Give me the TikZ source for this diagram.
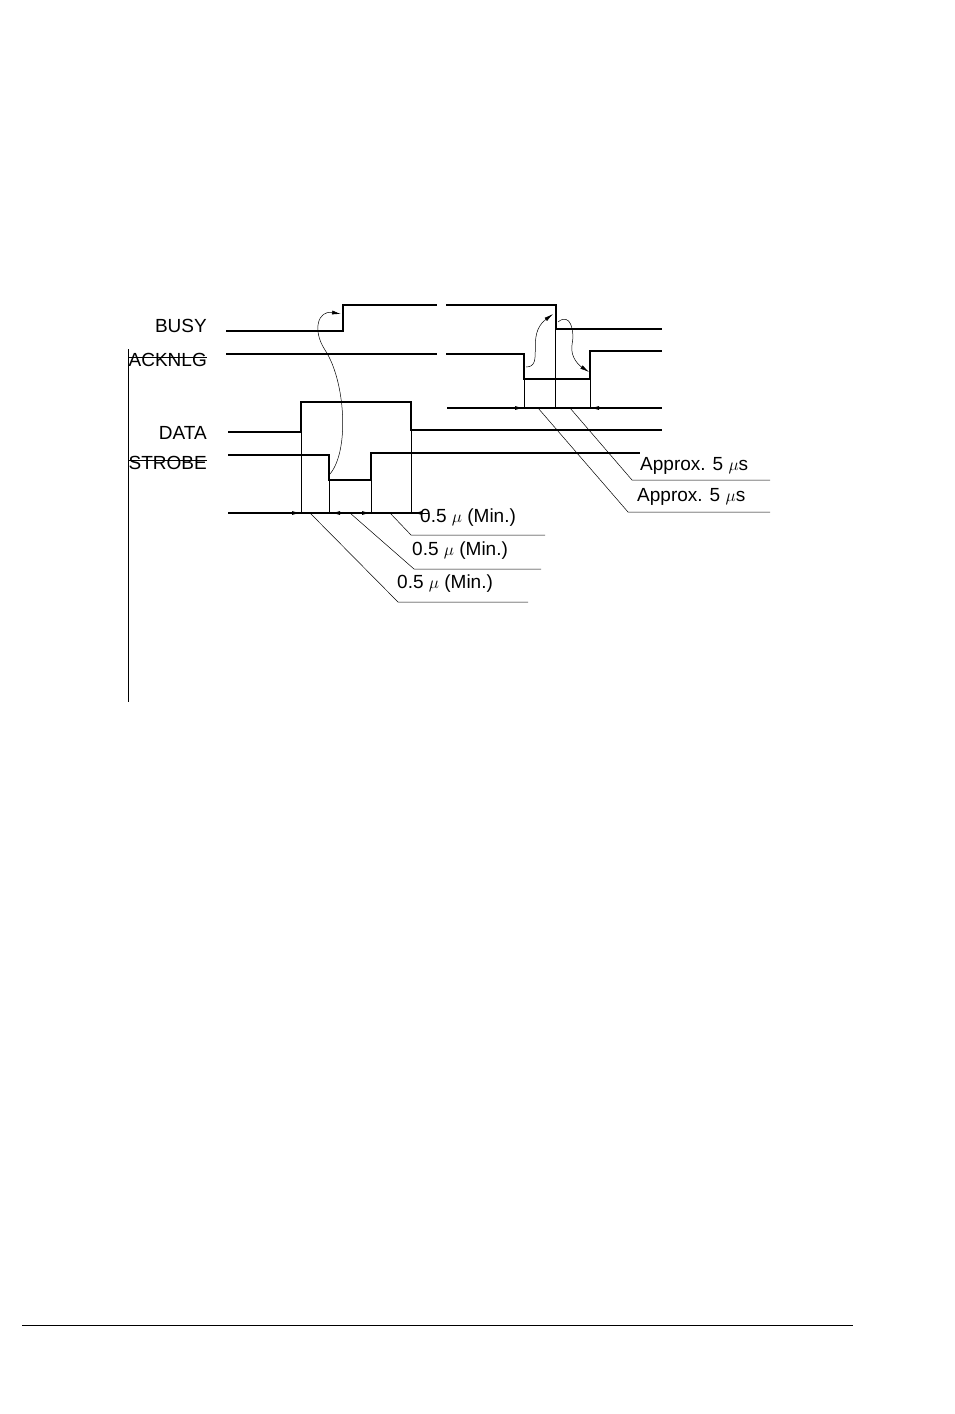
\documentclass[tikz,border=0pt]{standalone}
\usepackage{fontspec}
\setmainfont{Liberation Sans}
\usetikzlibrary{arrows.meta}
\begin{document}
\begin{tikzpicture}[x=1pt,y=-1pt,
  sig/.style={line width=1.6pt},
  thin/.style={line width=0.5pt},
  lbl/.style={font=\fontsize{19}{22}\selectfont, inner sep=0pt},
  tip/.style={-{Latex[length=9pt,width=4pt]}},
  tipl/.style={-{Latex[length=9pt,width=4pt]}}]
\useasboundingbox (0,0) rectangle (954,1414);
% labels
\node[lbl,anchor=east] (busy) at (207,326) {BUSY};
\node[lbl,anchor=east] (ack) at (207,360) {ACKNLG};
\draw[thin] (ack.north west)++(0,-4) -- ++(ack.north east -| 0,0) coordinate (tmp);
\draw[thin] ([yshift=-4pt]ack.north west) -- ([yshift=-4pt]ack.north east);
\node[lbl,anchor=east] (data) at (207,433) {DATA};
\node[lbl,anchor=east] (strobe) at (207,463) {STROBE};
\draw[thin] ([yshift=-4pt]strobe.north west) -- ([yshift=-4pt]strobe.north east);
% BUSY
\draw[sig] (226,331) -- (343,331) -- (343,305) -- (437,305);
\draw[sig] (446,305) -- (556,305) -- (556,329) -- (662,329);
% ACKNLG
\draw[sig] (226,354) -- (437,354);
\draw[sig] (446,354) -- (524,354) -- (524,379) -- (590,379) -- (590,351) -- (662,351);
% ACK timing row
\draw[sig] (447,408) -- (662,408);
\draw[thin] (524,379) -- (524,408);
\draw[thin] (555,329) -- (555,408);
\draw[thin] (590,379) -- (590,408);
\draw[line width=1pt,tip] (505,408) -- (524,408);
\draw[line width=1pt,tip] (608,408) -- (590,408);
% DATA
\draw[sig] (228,432) -- (301,432) -- (301,402) -- (411,402) -- (411,430) -- (662,430);
% STROBE
\draw[sig] (228,455) -- (329,455) -- (329,480) -- (371,480) -- (371,453) -- (640,453);
% bottom timing row
\draw[sig] (228,513) -- (420,513);
\draw[thin] (301,432) -- (301,513);
\draw[thin] (329,480) -- (329,513);
\draw[thin] (371,480) -- (371,513);
\draw[thin] (411,430) -- (411,513);
\draw[line width=1pt,tip] (284,513) -- (301,513);
\draw[line width=1pt,tip] (346,513) -- (331,513);
\draw[line width=1pt,tip] (356,513) -- (371,513);
\draw[line width=1pt,tip] (428,513) -- (413,513);
% leaders bottom
\draw[thin] (310,513) -- (398,602) -- (528,602);
\node[lbl,anchor=west] (m1) at (397,584) {0.5 $\mu$ (Min.)};
\draw[thin] (350,513) -- (414,569) -- (541,569);
\node[lbl,anchor=west] (m2) at (412,551) {0.5 $\mu$ (Min.)};
\draw[thin] (390,513) -- (411,535) -- (545,535);
\node[lbl,anchor=west] (m3) at (420,518) {0.5 $\mu$ (Min.)};
% leaders right
\draw[thin] (538,408) -- (628,512) -- (770,512);
\node[lbl,anchor=west] (a1) at (637,497) {Approx. 5 $\mu$s};
\draw[thin] (570,408) -- (632,480) -- (770,480);
\node[lbl,anchor=west] (a2) at (640,466) {Approx. 5 $\mu$s};
% curved causality arrows
\draw[thin,tip] (330,474) .. controls (350,450) and (345,380) .. (325,350)
   .. controls (312,330) and (318,310) .. (341,314);
\draw[thin,tip] (526,367) .. controls (545,367) and (525,335) .. (553,314);
\draw[thin,tip] (558,322) .. controls (570,312) and (575,330) .. (572,345)
   .. controls (570,358) and (580,366) .. (589,372);
% bottom rule
\draw[line width=0.8pt] (22,1325) -- (853,1325);
\end{tikzpicture}
\end{document}
